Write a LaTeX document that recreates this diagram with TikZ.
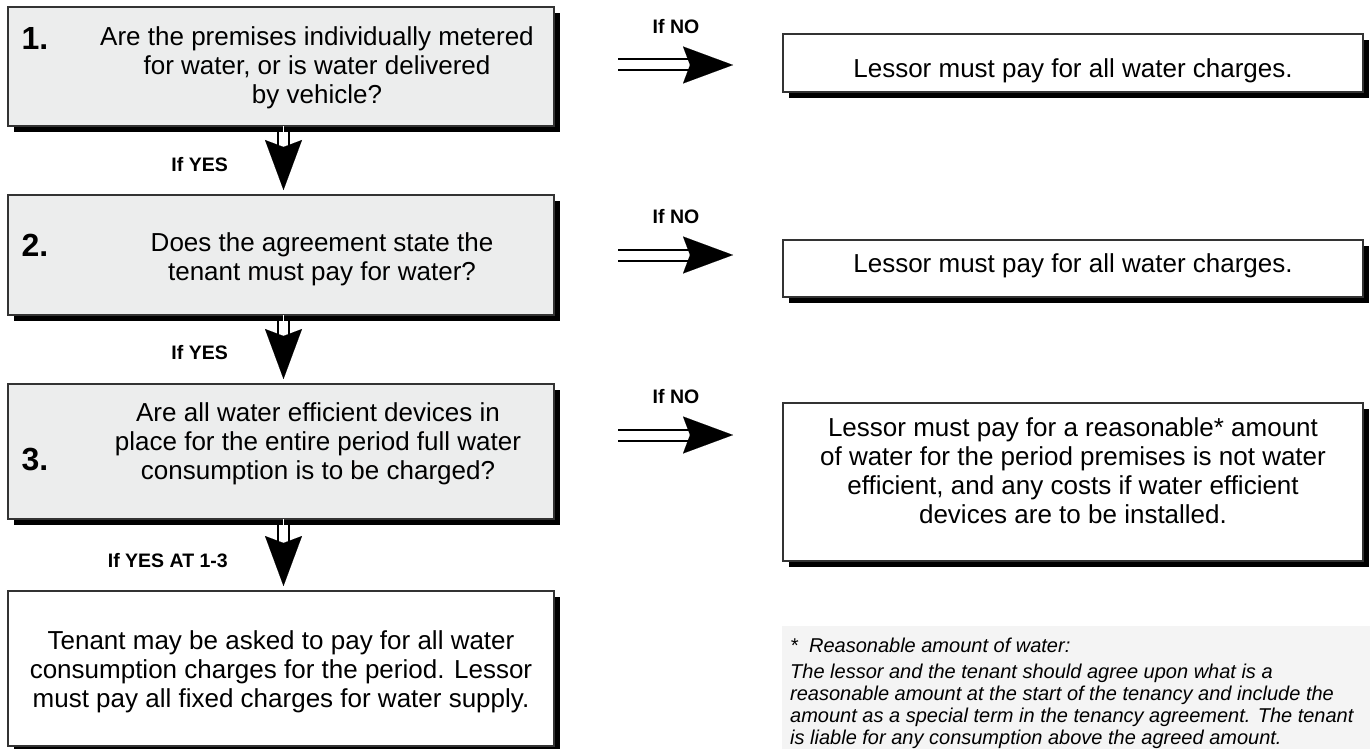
\documentclass[tikz,border=0pt]{standalone}
\usepackage{fontspec}
\setmainfont{Liberation Sans}
\usetikzlibrary{arrows.meta,shadows}
\definecolor{qfill}{HTML}{ECEDED}
\definecolor{nfill}{HTML}{F4F4F4}
\definecolor{edge}{HTML}{333333}
\begin{document}
\begin{tikzpicture}[x=1pt,y=-1pt,
  box/.style={draw=edge, line width=1.1pt, inner sep=0pt, outer sep=0pt, anchor=north west,
    drop shadow={shadow xshift=6pt, shadow yshift=-6pt, opacity=1, fill=black}},
  qbox/.style={box, fill=qfill},
  abox/.style={box, fill=white},
  body/.style={font=\fontsize{26}{29}\selectfont, align=center, inner sep=0pt},
  num/.style={font=\fontsize{32}{34}\selectfont\bfseries, inner sep=0pt},
  lbl/.style={font=\fontsize{19.5}{22}\selectfont\bfseries, inner sep=0pt},
  shaft/.style={draw=black, line width=2pt, double=white, double distance=9pt},
  head/.style={draw=white, line width=0.05pt, -{Stealth[length=50pt, width=37pt, inset=7pt, black]}},
]
\useasboundingbox (0,0) rectangle (1370,749);
\fill[white] (0,0) rectangle (1370,749);

% left boxes
\node[qbox, minimum width=546pt, minimum height=119pt] (b1) at (8,7) {};
\node[qbox, minimum width=546pt, minimum height=120pt] (b2) at (8,195) {};
\node[qbox, minimum width=546pt, minimum height=135pt] (b3) at (8,384) {};
\node[abox, minimum width=546pt, minimum height=155pt] (b4) at (8,591) {};

% right boxes
\node[abox, minimum width=580pt, minimum height=58pt] (r1) at (783,34) {};
\node[abox, minimum width=580pt, minimum height=57pt] (r2) at (783,240) {};
\node[abox, minimum width=580pt, minimum height=158pt] (r3) at (783,403) {};

% footnote area
\fill[nfill] (782,626) rectangle (1370,749);

% numbers
\node[num] (n1) at (35,38) {1.};
\node[num] (n2) at (35,245) {2.};
\node[num] (n3) at (35,460) {3.};

% texts
\node[body] (t1) at (317,68) {Are the premises individually metered\\for water, or is water delivered\\by vehicle?};
\node[body] (t2) at (322,259) {Does the agreement state the\\tenant must pay for water?};
\node[body] (t3) at (318,444) {Are all water efficient devices in\\place for the entire period full water\\consumption is to be charged?};
\node[body] (t4) at (281,672) {Tenant may be asked to pay for all water\\consumption charges for the period. Lessor\\must pay all fixed charges for water supply.};

\node[body] (s1) at (1073,71) {Lessor must pay for all water charges.};
\node[body] (s2) at (1073,266) {Lessor must pay for all water charges.};
\node[body] (s3) at (1073,471) {Lessor must pay for a reasonable* amount\\of water for the period premises is not water\\efficient, and any costs if water efficient\\devices are to be installed.};

\node[anchor=north west, inner sep=0pt, align=left, font=\fontsize{20}{22}\selectfont\itshape] (fn) at (790,638)
 {*\ \ Reasonable amount of water:\\[4pt]
  The lessor and the tenant should agree upon what is a\\
  reasonable amount at the start of the tenancy and include the\\
  amount as a special term in the tenancy agreement. The tenant\\
  is liable for any consumption above the agreed amount.};

% vertical connectors
\draw[shaft, shorten <=6pt, shorten >=45pt] ([xshift=2.5pt]b1.south) -- ([xshift=2.5pt]b2.north);
\draw[head, shorten >=5pt] ([xshift=2.5pt]b1.south) -- ([xshift=2.5pt]b2.north);
\draw[shaft, shorten <=6pt, shorten >=45pt] ([xshift=2.5pt]b2.south) -- ([xshift=2.5pt]b3.north);
\draw[head, shorten >=5pt] ([xshift=2.5pt]b2.south) -- ([xshift=2.5pt]b3.north);
\draw[shaft, shorten <=6pt, shorten >=45pt] ([xshift=2.5pt]b3.south) -- ([xshift=2.5pt]b4.north);
\draw[head, shorten >=5pt] ([xshift=2.5pt]b3.south) -- ([xshift=2.5pt]b4.north);

\node[lbl, anchor=east] (y1) at (228,165) {If YES};
\node[lbl, anchor=east] (y2) at (228,353) {If YES};
\node[lbl, anchor=east] (y3) at (228,561) {If YES AT 1-3};

% horizontal connectors
\coordinate (h1a) at (618,65);  \coordinate (h1b) at (733,65);
\coordinate (h2a) at (618,255); \coordinate (h2b) at (733,255);
\coordinate (h3a) at (618,435); \coordinate (h3b) at (733,435);
\foreach \i in {1,2,3}{
  \draw[shaft, shorten >=43pt] (h\i a) -- (h\i b);
  \draw[head] (h\i a) -- (h\i b);
}
\node[lbl] (no1) at (676,27) {If NO};
\node[lbl] (no2) at (676,217) {If NO};
\node[lbl] (no3) at (676,397) {If NO};
\end{tikzpicture}
\end{document}
